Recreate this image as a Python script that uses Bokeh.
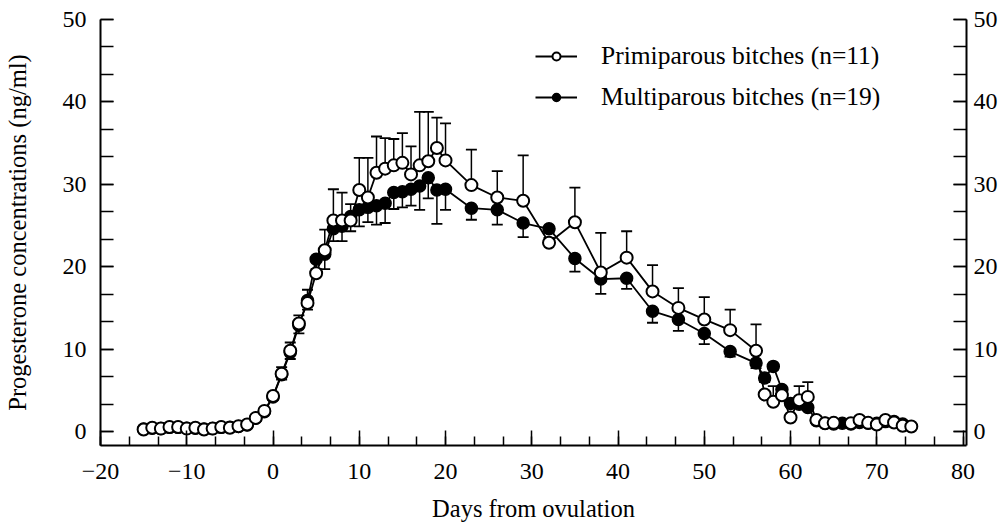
from bokeh.plotting import figure
from bokeh.models import (ColumnDataSource, LinearAxis, SingleIntervalTicker, Range1d,
                          Whisker, TeeHead, Legend, LegendItem)
from bokeh.embed import file_html
from bokeh.resources import INLINE

# ---------------- data ----------------
prim_days = list(range(-15, 21)) + [23, 26, 29, 32, 35, 38, 41, 44, 47, 50, 53, 56] + \
    [57, 58, 59, 60, 61, 62, 63, 64, 65, 67, 68, 69, 70, 71, 72, 73, 74]
prim_vals = [0.25, 0.45, 0.35, 0.55, 0.55, 0.35, 0.45, 0.25, 0.35, 0.55, 0.45, 0.65, 0.85, 1.65, 2.5,
             4.3, 7.0, 9.8, 13.1, 15.6, 19.2, 22.0, 25.6, 25.6, 25.6, 29.3, 28.4, 31.4, 31.9, 32.3,
             32.6, 31.2, 32.3, 32.8, 34.4, 32.9,
             29.9, 28.4, 28.0, 22.9, 25.4, 19.3, 21.1, 17.0, 15.0, 13.6, 12.3, 9.8,
             4.5, 3.6, 4.4, 1.7, 3.8, 4.2, 1.4, 1.0, 1.05, 1.0, 1.4, 1.05, 0.85, 1.4, 1.1, 0.7, 0.6]
prim_sem = [0.1, 0.1, 0.1, 0.1, 0.1, 0.1, 0.1, 0.1, 0.1, 0.1, 0.1, 0.1, 0.15, 0.2, 0.3,
            0.4, 0.8, 1.0, 1.0, 1.6, 1.5, 2.5, 3.8, 3.4, 2.0, 3.9, 4.8, 4.4, 3.7, 3.2,
            3.6, 3.4, 6.5, 6.0, 3.7, 4.5,
            4.3, 3.2, 5.5, 0.6, 4.2, 4.8, 3.2, 3.2, 2.4, 2.7, 2.5, 3.2,
            0.4, 1.9, 0.5, 0.3, 1.7, 1.8, 0.2, 0.2, 0.2, 0.2, 0.2, 0.2, 0.2, 0.2, 0.2, 0.2, 0.2]

multi_days = list(range(-15, 21)) + [23, 26, 29, 32, 35, 38, 41, 44, 47, 50, 53, 56] + \
    list(range(57, 74))
multi_vals = [0.3, 0.4, 0.35, 0.5, 0.5, 0.4, 0.4, 0.3, 0.35, 0.5, 0.5, 0.6, 0.8, 1.6, 2.4,
              4.2, 6.9, 9.6, 12.9, 15.9, 20.9, 21.5, 24.6, 24.9, 26.1, 26.9, 27.2, 27.4, 27.7, 29.0,
              29.1, 29.4, 29.8, 30.8, 29.3, 29.4,
              27.1, 26.9, 25.3, 24.6, 21.0, 18.5, 18.6, 14.6, 13.6, 11.9, 9.7, 8.3,
              6.5, 7.9, 5.1, 3.4, 3.3, 2.9, 1.3, 1.0, 0.9, 1.0, 0.9, 1.1, 1.0, 1.0, 1.2, 1.2, 0.9]
multi_sem = [0.1, 0.1, 0.1, 0.1, 0.1, 0.1, 0.1, 0.1, 0.1, 0.1, 0.1, 0.1, 0.1, 0.2, 0.3,
             0.4, 0.6, 0.8, 1.0, 1.1, 1.2, 1.8, 1.5, 1.8, 1.8, 2.0, 1.8, 2.3, 2.4, 2.0,
             1.9, 2.0, 2.9, 2.5, 4.1, 2.5,
             1.4, 1.8, 1.7, 0.5, 1.6, 1.8, 1.3, 1.4, 1.4, 1.3, 0.6, 0.6,
             0.5, 0.4, 0.3, 0.3, 0.3, 0.3, 0.2, 0.2, 0.2, 0.2, 0.2, 0.2, 0.2, 0.2, 0.2, 0.2, 0.2]

prim_label = "Primiparous bitches (n=11)"
multi_label = "Multiparous bitches (n=19)"
x_title = "Days from ovulation"
y_title = "Progesterone concentrations (ng/ml)"

FONT = "Liberation Serif"

prim_src = ColumnDataSource(dict(x=prim_days, y=prim_vals,
                                 up=[v + e for v, e in zip(prim_vals, prim_sem)]))
multi_src = ColumnDataSource(dict(x=multi_days, y=multi_vals,
                                  lo=[v - e for v, e in zip(multi_vals, multi_sem)]))

p = figure(width=1000, height=524, x_range=Range1d(-20, 80.4), y_range=Range1d(-1.7, 50),
           output_backend="svg", toolbar_location=None,
           min_border_left=99, min_border_right=33, min_border_top=19, min_border_bottom=71)
p.grid.visible = False
p.outline_line_color = None
p.background_fill_color = "white"
p.border_fill_color = "white"


def style_axis(ax, tick_in, minor_in, standoff):
    ax.axis_line_color = "black"
    ax.axis_line_width = 2
    ax.major_tick_in = tick_in
    ax.major_tick_out = 0
    ax.minor_tick_in = minor_in
    ax.minor_tick_out = 0
    ax.major_tick_line_color = "black"
    ax.major_tick_line_width = 1.5
    ax.minor_tick_line_color = "black"
    ax.minor_tick_line_width = 1.5
    ax.major_label_text_font = FONT
    ax.major_label_text_font_size = "24px"
    ax.major_label_text_color = "black"
    ax.major_label_standoff = standoff
    ax.axis_label_text_font = FONT
    ax.axis_label_text_font_size = "24.5px"
    ax.axis_label_text_font_style = "normal"
    ax.axis_label_text_color = "black"


xax = p.xaxis[0]
xax.ticker = SingleIntervalTicker(interval=10, num_minor_ticks=3)
style_axis(xax, 15, 9, 18)
xax.axis_label = x_title
xax.axis_label_standoff = 13

yax = p.yaxis[0]
yax.ticker = SingleIntervalTicker(interval=10, num_minor_ticks=3)
style_axis(yax, 13, 13, 14)
yax.axis_label = y_title
yax.axis_label_standoff = 29

rax = LinearAxis(ticker=SingleIntervalTicker(interval=10, num_minor_ticks=3))
style_axis(rax, 13, 13, 7)
p.add_layout(rax, "right")

# error bars
p.add_layout(Whisker(source=multi_src, base="x", upper="y", lower="lo", dimension="height",
                     line_color="black", line_width=1.5, upper_head=None,
                     lower_head=TeeHead(size=11, line_color="black", line_width=1.8)))
p.add_layout(Whisker(source=prim_src, base="x", upper="up", lower="y", dimension="height",
                     line_color="black", line_width=1.5, lower_head=None,
                     upper_head=TeeHead(size=11, line_color="black", line_width=1.8)))

ml = p.line("x", "y", source=multi_src, line_color="black", line_width=1.8)
ms = p.scatter("x", "y", source=multi_src, marker="circle", size=12,
               fill_color="black", line_color="black", line_width=1.5)
pl = p.line("x", "y", source=prim_src, line_color="black", line_width=1.8)
ps = p.scatter("x", "y", source=prim_src, marker="circle", size=12,
               fill_color="white", line_color="black", line_width=2)

legend = Legend(items=[LegendItem(label=prim_label, renderers=[pl, ps]),
                       LegendItem(label=multi_label, renderers=[ml, ms])],
                location=(435, 333), orientation="vertical",
                glyph_width=42, glyph_height=20, label_standoff=24, spacing=11,
                padding=0, margin=0, border_line_color=None, background_fill_alpha=0,
                label_text_font=FONT, label_text_font_size="25.5px", label_text_color="black")
p.add_layout(legend)

open("out.html", "w").write(file_html(p, INLINE))
